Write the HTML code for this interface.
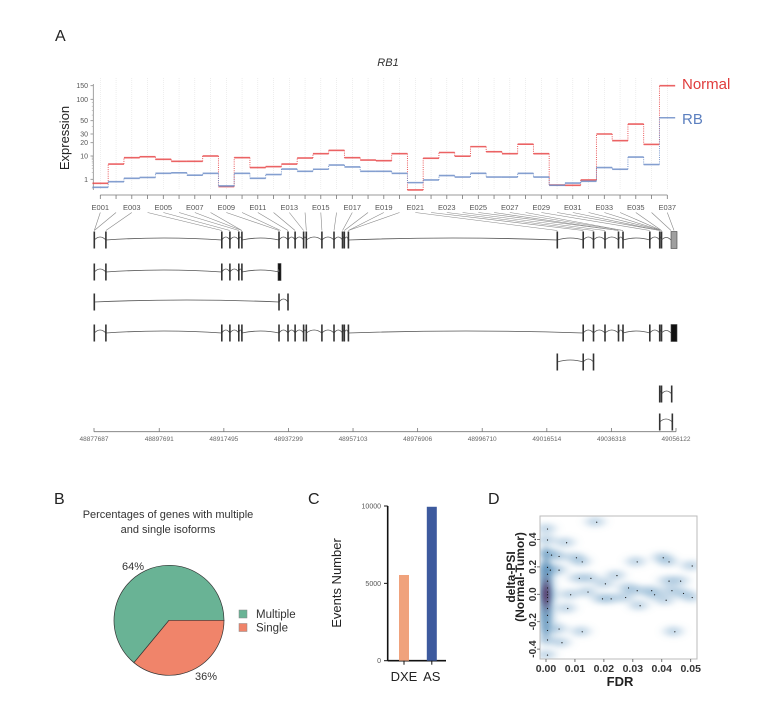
<!DOCTYPE html>
<html><head><meta charset="utf-8"><style>
html,body{margin:0;padding:0;background:#fff;}
svg{display:block;font-family:"Liberation Sans",sans-serif;}
</style></head><body>
<svg id="fig" width="777" height="707" viewBox="0 0 777 707" xmlns="http://www.w3.org/2000/svg">
<defs>
<filter id="blurD" x="-50%" y="-50%" width="200%" height="200%"><feGaussianBlur stdDeviation="5 3"/></filter>
<filter id="blurC" x="-100%" y="-100%" width="300%" height="300%"><feGaussianBlur stdDeviation="3 6"/></filter>
<clipPath id="clipD"><rect x="540" y="516" width="157" height="143"/></clipPath>
</defs>
<text x="55" y="41" font-size="16" fill="#222">A</text>
<text x="388" y="66" font-size="11" font-style="italic" text-anchor="middle" fill="#333">RB1</text>
<text transform="translate(69,138) rotate(-90)" font-size="13" text-anchor="middle" fill="#222">Expression</text>
<g id="gA"></g>
<g id="gModel"></g>
<text x="682" y="89" font-size="15" fill="#e03c3c">Normal</text>
<text x="682" y="124" font-size="15" fill="#5b7fbf">RB</text>

<text x="54" y="504" font-size="16" fill="#222">B</text>
<text x="168" y="518" font-size="11" text-anchor="middle" fill="#333">Percentages of genes with multiple</text>
<text x="168" y="533" font-size="11" text-anchor="middle" fill="#333">and single isoforms</text>
<g id="gB"></g>

<text x="308" y="504" font-size="16" fill="#222">C</text>
<text transform="translate(341,583) rotate(-90)" font-size="13" text-anchor="middle" fill="#222">Events Number</text>
<g id="gC"></g>

<text x="488" y="504" font-size="16" fill="#222">D</text>
<g id="gD"></g>
<text transform="translate(515,577) rotate(-90)" font-size="12" font-weight="bold" text-anchor="middle" fill="#222">delta-PSI</text>
<text transform="translate(524,577) rotate(-90)" font-size="12" font-weight="bold" text-anchor="middle" fill="#222">(Normal-Tumor)</text>
<text x="620" y="686" font-size="13" font-weight="bold" text-anchor="middle" fill="#222">FDR</text>
</svg>
<script>
var exonLabels=["E001","E002","E003","E004","E005","E006","E007","E008","E009","E010","E011","E012","E013","E014","E015","E016","E017","E018","E019","E020","E021","E022","E023","E024","E025","E026","E027","E028","E029","E030","E031","E032","E033","E034","E035","E036","E037"];
var normalExpr=[0.7,4.5,8.5,9.3,7.2,5.9,5.9,10,0.45,8.5,3.2,3.5,4.5,8.2,11.3,13.4,8.5,6.7,6.3,11.3,0.2,8,12,9.8,16.3,12.5,11.3,18.5,11.3,0.57,0.55,0.95,30,22,44,18.3,150];
var rbExpr=[0.4,0.82,1.1,1.2,1.8,1.9,1.5,1.8,0.5,1.8,1.1,1.6,2.75,2.2,2.7,4.1,3.4,2.2,2.2,1.8,0.75,0.95,1.45,1.25,1.8,1.25,1.25,1.8,1.25,0.55,0.72,0.85,3.2,2.7,9,4.3,55];
var exprTicks=[1,10,20,30,50,100,150];
var exonBinGenomic=[48877780,48877780,48881336,48916870,48919354,48922083,48923033,48923033,48934408,48934900,48937168,48939345,48941951,48942779,48947562,48951271,48953878,48954430,48955687,48955687,49019732,49027673,49030831,49034357,49038496,49038496,49039876,49039876,49048093,49051128,49051128,49051680,49051680,49051680,49051680,49054600,49055520];
var genomicTicks=[48877687,48897691,48917495,48937299,48957103,48976906,48996710,49016514,49036318,49056122];
var tx1=[48877780,48881336,48916870,48919354,48922083,48923033,48934408,48937168,48939345,48941951,48942779,48947562,48951271,48953878,48954430,48955687,49019732,49027673,49030831,49034357,49038496,49039876,49048093,49051128,49051680];
var tx2=[48877780,48881336,48916870,48919354,48922083,48923033,48934408];
var tx3=[48877780,48934408,48937168];
var tx4=[48877780,48881336,48916870,48919354,48922083,48923033,48934408,48937168,48939345,48941951,48942779,48947562,48951271,48953878,48954430,48955687,49027673,49030831,49034357,49038496,49039876,49048093,49051128,49051680];
var tx5=[49019732,49027673,49030831];
var tx6=[49051128,49051680,49054800];
var tx7=[49051128,49055000];
var pieLabels=["Multiple","Single"];
var pieValues=[64,36];
var barCats=["DXE","AS"];
var barValues=[5540,9950];
var barTicks=[0,5000,10000];
var dFdr=[0,0,0.0066,0,0.0014,0.004,0.010,0.012,0.017,0.031,0.042,0.040,0.050,0.024,0.011,0.015,0.020,0.042,0.046,0.031,0.036,0.043,0.047,0.019,0.027,0.037,0.050,0.007,0.032,0.041,0.004,0.012,0.044,0.005,0,0,0,0.001,0.004,0,0,0,0,0,0,0,0,0,0,0,0.008,0.014,0.022,0.028];
var dPsi=[0.48,0.40,0.38,0.31,0.29,0.28,0.27,0.24,0.53,0.24,0.24,0.27,0.21,0.14,0.12,0.12,0.08,0.10,0.10,0.03,0.03,0.03,0.01,-0.03,-0.02,0.0,-0.02,-0.10,-0.08,-0.04,-0.25,-0.27,-0.27,-0.35,-0.26,-0.33,-0.44,0.18,0.18,0.2,0.15,0.1,0.05,0.02,-0.02,-0.05,-0.1,-0.15,-0.2,0.0,0.0,0.02,-0.03,0.05];
var dTicksX=[0,0.01,0.02,0.03,0.04,0.05];
var dTicksY=[-0.4,-0.2,0.0,0.2,0.4];

var NS="http://www.w3.org/2000/svg";
function mk(tag,attrs,parent){var e=document.createElementNS(NS,tag);for(var k in attrs)e.setAttribute(k,attrs[k]);parent.appendChild(e);return e;}

// ---------- Panel A ----------
var gA=document.getElementById('gA');
var tickYs=[179.3,156,142.7,134,120.7,99.3,85.7];
function yExp(v){
  if(v<1) return 192.6-v*13.3;
  var lv=Math.log(v);
  for(var i=0;i<exprTicks.length-1;i++){
    if(v<=exprTicks[i+1]){var a=Math.log(exprTicks[i]),b=Math.log(exprTicks[i+1]);return tickYs[i]+(lv-a)/(b-a)*(tickYs[i+1]-tickYs[i]);}
  }
  var n=exprTicks.length;var a2=Math.log(exprTicks[n-2]),b2=Math.log(exprTicks[n-1]);
  return tickYs[n-1]+(lv-b2)/(b2-a2)*(tickYs[n-1]-tickYs[n-2]);
}
var step=15.75;
function xExon(i){return 100.3+i*step;}
for(var i=0;i<exonLabels.length;i++){
  var gl=mk('line',{x1:xExon(i),x2:xExon(i),y1:78,y2:190,stroke:'#e2e2e2','stroke-width':0.6,'stroke-dasharray':'1,1'},gA);
  
  
}
var ya=mk('line',{x1:93.3,x2:93.3,y1:84,y2:190,stroke:'#888','stroke-width':0.8},gA);


for(var i=0;i<exprTicks.length;i++){
  var y=yExp(exprTicks[i]);
  mk('line',{x1:90.5,x2:93.3,y1:y,y2:y,stroke:'#888','stroke-width':0.8},gA);
  var t=mk('text',{x:88,y:y+2.5,'font-size':7,'text-anchor':'end',fill:'#555'},gA);
  t.textContent=exprTicks[i];
  
  
}
[2,3,4,5,6,7,8,9,40,60,70,80,90].forEach(function(v){var y=yExp(v);mk('line',{x1:91.8,x2:93.3,y1:y,y2:y,stroke:'#999','stroke-width':0.5},gA);});
mk('line',{x1:91.8,x2:93.3,y1:188,y2:188,stroke:'#999','stroke-width':0.5},gA);
function drawSeries(vals,color,name){
  var g=mk('g',{},gA);
  
  
  for(var i=0;i<vals.length;i++){
    var x=xExon(i),y=yExp(vals[i]);
    var s=mk('line',{x1:x-step/2,x2:x+step/2,y1:y,y2:y,stroke:color,'stroke-width':1.6,opacity:0.85},g);
    
    
    if(i<vals.length-1){var y2=yExp(vals[i+1]);mk('line',{x1:x+step/2,x2:x+step/2,y1:y,y2:y2,stroke:color,'stroke-width':0.9,'stroke-dasharray':'1,1.2'},g);}
  }
}
drawSeries(normalExpr,'#e8484a','normal-line');
drawSeries(rbExpr,'#6f8fc8','rb-line');
var xa=mk('line',{x1:xExon(0),x2:xExon(36),y1:195,y2:195,stroke:'#777','stroke-width':0.8},gA);


var gMin=genomicTicks[0],gMax=genomicTicks[genomicTicks.length-1];
function gx(g){return 94+(g-gMin)/(gMax-gMin)*582;}
for(var i=0;i<exonLabels.length;i++){
  var x=xExon(i);
  mk('line',{x1:x,x2:x,y1:195,y2:199,stroke:'#777','stroke-width':0.8},gA);
  if(i%2===0){var t=mk('text',{x:x,y:210,'font-size':7.5,'text-anchor':'middle',fill:'#555'},gA);t.textContent=exonLabels[i];
    
    }
  var c=mk('line',{x1:x,y1:212.5,x2:gx(exonBinGenomic[i]),y2:230.5,stroke:'#888','stroke-width':0.6},gA);
  
  
}
var gM=document.getElementById('gModel');
function drawTx(list,yc,name,endBox){
  var g=mk('g',{},gM);
  
  
  var xs=list.map(gx);
  for(var i=0;i<xs.length-1;i++){
    var x1=xs[i],x2=xs[i+1];if(x2-x1<1)continue;
    var h=(x2-x1)<20?3:2;
    mk('path',{d:'M'+x1+','+yc+' Q'+((x1+x2)/2)+','+(yc-2*h)+' '+x2+','+yc,fill:'none',stroke:'#555','stroke-width':0.8},g);
  }
  for(var i=0;i<xs.length;i++){
    var e=mk('rect',{x:xs[i]-0.8,y:yc-8.5,width:1.6,height:17,fill:'#333'},g);
    
    
  }
  if(endBox){var b=mk('rect',{x:endBox[0],y:yc-8.5,width:endBox[1],height:17,fill:endBox[2],stroke:'#444','stroke-width':0.6},g);
    
    
    mk('path',{d:'M'+xs[xs.length-1]+','+yc+' Q'+((xs[xs.length-1]+endBox[0])/2)+','+(yc-5)+' '+endBox[0]+','+yc,fill:'none',stroke:'#555','stroke-width':0.8},g);}
}
drawTx(tx1,240,'transcript-1',[671,6,'#a0a0a0']);
drawTx(tx2,272,'transcript-2',[278,3,'#111']);
drawTx(tx3,302,'transcript-3',null);
drawTx(tx4,333,'transcript-4',[671,6,'#111']);
drawTx(tx5,362,'transcript-5',null);
drawTx(tx6,394,'transcript-6',null);
drawTx(tx7,422,'transcript-7',null);
var ga=mk('line',{x1:94,x2:676,y1:431.7,y2:431.7,stroke:'#777','stroke-width':0.8},gM);


for(var i=0;i<genomicTicks.length;i++){
  var x=gx(genomicTicks[i]);
  mk('line',{x1:x,x2:x,y1:431.7,y2:428,stroke:'#777','stroke-width':0.8},gM);
  var t=mk('text',{x:x,y:441,'font-size':6.5,'text-anchor':'middle',fill:'#666'},gM);
  t.textContent=genomicTicks[i];
  
  
}

// ---------- Panel B ----------
var gB=document.getElementById('gB');
var cx=169,cy=620.3,r=55,colors=['#69b395','#f0846a'];
var total=pieValues.reduce(function(a,b){return a+b;},0);
var aS=pieValues[1]/total*2*Math.PI;
function pt(a){return (cx+r*Math.cos(a)).toFixed(2)+','+(cy+r*Math.sin(a)).toFixed(2);}
var pm=mk('path',{d:'M'+cx+','+cy+' L'+pt(aS)+' A'+r+','+r+' 0 '+(2*Math.PI-aS>Math.PI?1:0)+' 1 '+pt(2*Math.PI-0.0001)+' Z',fill:colors[0],stroke:'#333','stroke-width':0.7},gB);


var ps=mk('path',{d:'M'+cx+','+cy+' L'+pt(0)+' A'+r+','+r+' 0 '+(aS>Math.PI?1:0)+' 1 '+pt(aS)+' Z',fill:colors[1],stroke:'#333','stroke-width':0.7},gB);


var l1=mk('text',{x:133,y:570,'font-size':11,'text-anchor':'middle',fill:'#333'},gB);l1.textContent=pieValues[0]+'%';


var l2=mk('text',{x:206,y:680,'font-size':11,'text-anchor':'middle',fill:'#333'},gB);l2.textContent=pieValues[1]+'%';


for(var i=0;i<pieLabels.length;i++){
  var yy=610+i*13.5;
  var sq=mk('rect',{x:239,y:yy,width:8,height:8,fill:colors[i],stroke:'#888','stroke-width':0.5},gB);
  
  
  var lt=mk('text',{x:256,y:yy+8,'font-size':11.5,fill:'#333'},gB);lt.textContent=pieLabels[i];
  
  
}

// ---------- Panel C ----------
var gC=document.getElementById('gC');
var c0=660.7,cTop=506,cMax=10000;
function yC(v){return c0-(v/cMax)*(c0-cTop);}
var cax=mk('line',{x1:387.7,x2:387.7,y1:cTop,y2:c0,stroke:'#111','stroke-width':1.6},gC);


mk('line',{x1:387.7,x2:446,y1:c0,y2:c0,stroke:'#111','stroke-width':1.6},gC);
for(var i=0;i<barTicks.length;i++){
  var y=yC(barTicks[i]);
  mk('line',{x1:384,x2:387.7,y1:y,y2:y,stroke:'#111','stroke-width':1},gC);
  var t=mk('text',{x:381,y:y+2.5,'font-size':7,'text-anchor':'end',fill:'#555'},gC);t.textContent=barTicks[i];
  
  
}
var barCols=['#f0a27c','#3d5a9e'],barX=[404,431.8];
for(var i=0;i<barCats.length;i++){
  var b=mk('rect',{x:barX[i]-5,y:yC(barValues[i]),width:10,height:c0-yC(barValues[i]),fill:barCols[i]},gC);
  
  
  mk('line',{x1:barX[i],x2:barX[i],y1:c0,y2:c0+4,stroke:'#111','stroke-width':1},gC);
  var t=mk('text',{x:barX[i],y:681,'font-size':13,'text-anchor':'middle',fill:'#222'},gC);t.textContent=barCats[i];
  
  
}

// ---------- Panel D ----------
var gD=document.getElementById('gD');
function xD(v){return 546+v/0.05*144.7;}
function yD(v){return 594.3-v*137;}
var bg=mk('g',{'clip-path':'url(#clipD)'},gD);
var blobs=mk('g',{filter:'url(#blurD)'},bg);
for(var i=0;i<dFdr.length;i++){
  var e=mk('ellipse',{cx:xD(dFdr[i]),cy:yD(dPsi[i]),rx:9,ry:5,fill:'#5f97c0','fill-opacity':0.4},blobs);
  
  
}
var core=mk('g',{filter:'url(#blurC)'},bg);
mk('ellipse',{cx:xD(0),cy:yD(0),rx:6,ry:45,fill:'#3e7bab','fill-opacity':0.55},core);
mk('ellipse',{cx:xD(0),cy:yD(0),rx:4,ry:14,fill:'#5a2258','fill-opacity':0.85},core);
for(var i=0;i<dFdr.length;i++){
  var p=mk('circle',{cx:xD(dFdr[i])+1.5,cy:yD(dPsi[i])+0.5,r:0.6,fill:'#111'},bg);
  
  
}
var box=mk('rect',{x:540,y:516,width:157,height:143,fill:'none',stroke:'#bbb','stroke-width':1},gD);


for(var i=0;i<dTicksX.length;i++){
  var x=xD(dTicksX[i]);
  mk('line',{x1:x,x2:x,y1:659,y2:662,stroke:'#555','stroke-width':0.8},gD);
  var t=mk('text',{x:x,y:672,'font-size':10.5,'font-weight':'bold','text-anchor':'middle',fill:'#333'},gD);t.textContent=dTicksX[i].toFixed(2);
  
  
}
for(var i=0;i<dTicksY.length;i++){
  var y=yD(dTicksY[i]);
  mk('line',{x1:537,x2:540,y1:y,y2:y,stroke:'#555','stroke-width':0.8},gD);
  var t=mk('text',{transform:'translate(536,'+y+') rotate(-90)','font-size':10,'font-weight':'bold','text-anchor':'middle',fill:'#333'},gD);t.textContent=dTicksY[i].toFixed(1);
  
  
}
</script>
</body></html>
